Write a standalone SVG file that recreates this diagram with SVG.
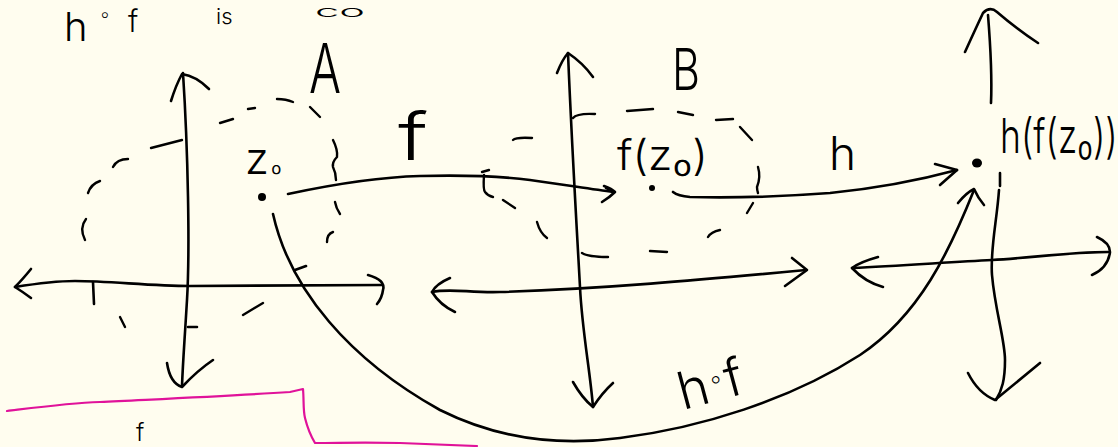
<svg xmlns="http://www.w3.org/2000/svg" width="1118" height="447" viewBox="0 0 1118 447">
<style>
.s{fill:none;stroke:#000;stroke-width:2.6;stroke-linecap:round;stroke-linejoin:round}
.d{fill:none;stroke:#000;stroke-width:2.4;stroke-linecap:round;stroke-linejoin:round}
.t{font-family:"Inter","Roboto","DejaVu Sans",sans-serif;font-weight:300;fill:#000}
.m{fill:none;stroke:#E0129A;stroke-width:2.2;stroke-linecap:round;stroke-linejoin:round}
</style>
<rect width="1118" height="447" fill="#FFFDEF"/>

<g id="heading">
<text class="t" x="64" y="41" font-size="40">h<tspan x="98" y="22" font-size="22">∘</tspan><tspan x="128" y="32" font-size="30">f</tspan><tspan x="216" y="24" font-size="22">is</tspan><tspan x="315" y="17" font-size="16" textLength="50" lengthAdjust="spacingAndGlyphs">co</tspan></text>
</g>

<g id="plane-A">
<path class="s" d="M183,73 C188,150 190,250 187,300 S183,360 182,386"/>
<path class="s" d="M171,101 Q176,85 182,74 Q196,76 209,89"/>
<path class="s" d="M167,363 Q170,383 182,387 Q198,370 213,360"/>
<path class="s" d="M15,287 C40,283 55,281 75,281 C110,281 150,286 190,286 C260,286 330,285 382,285"/>
<path class="s" d="M31,269 Q22,280 15,287 Q23,292 31,298"/>
<path class="s" d="M368,275 Q386,280 383,290 Q382,298 377,304"/>
<path class="s" d="M93,282 L94,304 M188,327 L197,327 M295,270 L306,266"/>
<g id="region-A">
<path class="d" d="M85,240 Q79,228 86,219"/>
<path class="d" d="M88,193 Q91,184 100,181"/>
<path class="d" d="M113,167 Q117,159 128,159"/>
<path class="d" d="M151,148 L182,140"/>
<path class="d" d="M220,123 L233,119"/>
<path class="d" d="M248,109 L255,108"/>
<path class="d" d="M277,99 Q286,99 293,102"/>
<path class="d" d="M310,107 L320,117"/>
<path class="d" d="M333,140 Q338,150 337,157 Q332,162 333,167 Q336,173 336,180"/>
<path class="d" d="M335,202 Q336,208 340,214"/>
<path class="d" d="M327,242 Q327,234 333,232"/>
<path class="d" d="M243,315 L263,303"/>
<path class="d" d="M120,317 L125,327"/>
</g>
<text class="t" x="309" y="93" font-size="68" textLength="32" lengthAdjust="spacingAndGlyphs">A</text>
<circle cx="262" cy="197" r="4"/>
<text class="t" x="245" y="174" font-size="44">z<tspan font-size="24" dy="-3" dx="2">₀</tspan></text>
</g>

<g id="plane-B">
<path class="s" d="M568,53 C572,150 578,250 580,287 C582,330 590,370 593,407"/>
<path class="s" d="M557,73 Q562,60 568,53 Q583,63 593,77"/>
<path class="s" d="M573,382 Q582,398 593,407 Q602,393 613,383"/>
<path class="s" d="M432,292 C450,288 470,293 500,292 C600,289 700,280 806,270"/>
<path class="s" d="M450,278 Q436,284 432,292 Q440,305 455,312"/>
<path class="s" d="M792,258 L807,270 L785,286"/>
<g id="region-B">
<path class="d" d="M573,118 Q577,113 595,114"/>
<path class="d" d="M627,111 L653,109"/>
<path class="d" d="M678,112 L693,115"/>
<path class="d" d="M716,120 L733,119"/>
<path class="d" d="M740,127 L752,140"/>
<path class="d" d="M758,167 Q761,177 757,187 Q757,190 758,193"/>
<path class="d" d="M753,203 L747,213"/>
<path class="d" d="M708,237 Q711,232 720,230"/>
<path class="d" d="M650,251 L667,252"/>
<path class="d" d="M582,253 Q588,257 608,257"/>
<path class="d" d="M537,222 Q540,233 547,238"/>
<path class="d" d="M503,200 L515,208"/>
<path class="d" d="M482,172 L489,170 M484,175 Q483,190 485,192 Q488,196 493,197"/>
<path class="d" d="M513,140 Q516,137 532,138"/>
</g>
<text class="t" x="672" y="90" font-size="58" textLength="28" lengthAdjust="spacingAndGlyphs">B</text>
<circle cx="652" cy="188" r="3"/>
<text class="t" x="617" y="170" font-size="42" textLength="91" lengthAdjust="spacingAndGlyphs">f(z₀)</text>
</g>

<g id="plane-C">
<path class="s" d="M988,15 C990,40 992,80 991,103"/>
<path class="s" d="M965,52 Q975,30 983,13 Q990,6 997,12 Q1018,30 1038,43"/>
<path class="s" d="M1000,173 L1000,186 M999,190 C997,220 990,250 992,275 C995,310 1005,340 1005,360 C1005,380 1002,390 996,400"/>
<path class="s" d="M968,373 Q978,393 995,400 Q1017,382 1040,363"/>
<path class="s" d="M852,268 C900,266 950,262 992,260 C1030,258 1070,252 1108,252"/>
<path class="s" d="M878,257 Q860,262 852,268 Q865,282 883,287"/>
<path class="s" d="M1097,237 Q1110,243 1110,252 Q1108,268 1092,275"/>
<ellipse cx="977" cy="163" rx="5" ry="4.5"/>
<text class="t" transform="translate(1000,153) scale(0.74,1)" x="0" y="0" font-size="48">h(f(z₀))</text>
</g>

<g id="connectors">
<g id="arrow-f">
<path class="s" d="M288,194 C330,185 380,177 420,176 C460,175 500,176 530,180 C560,184 590,189 613,192"/>
<path class="s" d="M604,186 Q612,189 615,192 Q610,197 602,202 M606,188 L613,191"/>
<text class="t" x="398" y="160" font-size="66" textLength="30" lengthAdjust="spacingAndGlyphs">f</text>
</g>
<g id="arrow-h">
<path class="s" d="M673,192 Q678,196 690,197 C730,198 790,196 830,193 C880,188 920,180 957,170"/>
<path class="s" d="M935,164 L957,170 L940,185"/>
<text class="t" x="829" y="170" font-size="46">h</text>
</g>
<g id="arrow-hof">
<path class="s" d="M273,214 C290,290 350,360 440,410 C500,440 560,446 620,438 C700,428 790,400 860,355 C920,315 950,250 974,190"/>
<path class="s" d="M958,203 Q966,193 974,189 Q978,198 984,205"/>
<text class="t" x="683" y="410" font-size="52" transform="rotate(-15 683 410)">h<tspan font-size="28" dy="-12">∘</tspan><tspan dy="12">f</tspan></text>
</g>
</g>

<g id="underline">
<path class="m" d="M7,411 C40,407 70,403 100,402 C160,399 230,396 290,392 L303,389 C304,400 303,410 305,418 C308,430 312,438 315,443 C340,443 360,442 400,443 L477,446"/>
<text class="t" x="136" y="441" font-size="24">f</text>
</g>
</svg>
